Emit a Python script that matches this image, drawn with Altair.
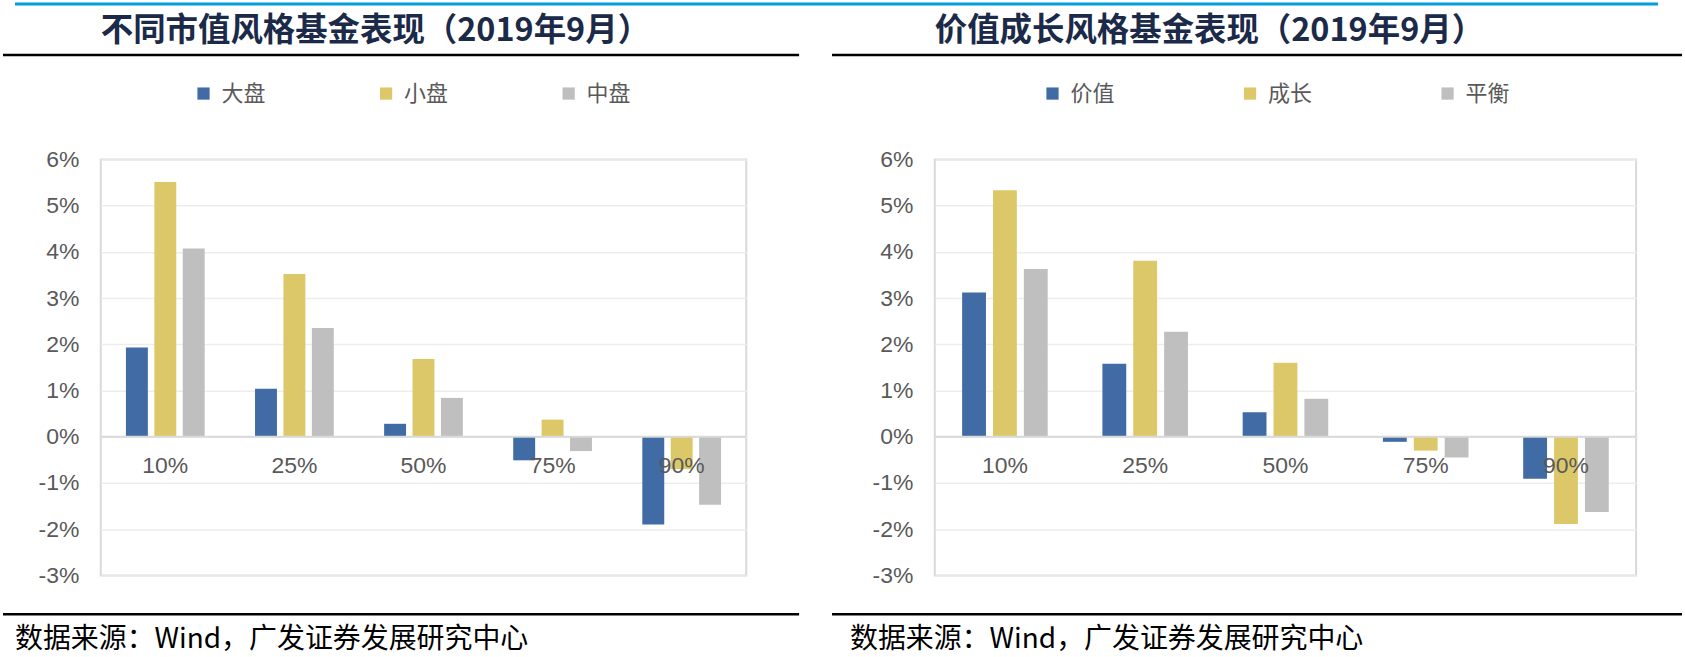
import altair as alt
import pandas as pd

# ---- data (percent) ----
categories = ["10%", "25%", "50%", "75%", "90%"]

left_series = ["大盘", "小盘", "中盘"]
left_large = [1.93, 1.04, 0.28, -0.51, -1.90]
left_small = [5.51, 3.52, 1.68, 0.37, -0.70]
left_mid = [4.07, 2.35, 0.84, -0.31, -1.47]

right_series = ["价值", "成长", "平衡"]
right_value = [3.12, 1.58, 0.53, -0.11, -0.91]
right_growth = [5.33, 3.81, 1.60, -0.30, -1.89]
right_balance = [3.63, 2.27, 0.82, -0.45, -1.63]

y_ticks = [-3, -2, -1, 0, 1, 2, 3, 4, 5, 6]

left_title = "不同市值风格基金表现（2019年9月）"
right_title = "价值成长风格基金表现（2019年9月）"
source_text = "数据来源：Wind，广发证券发展研究中心"

colors = ["#416BA4", "#DCC869", "#BFBFBF"]

PLOT_H = 417
CJK = "Noto Sans CJK SC"
LATIN = "Liberation Sans"
GREY_TXT = "#595959"

dummy = pd.DataFrame({"a": [0]})


def hline(x1, x2, y, color, width):
    return alt.Chart(dummy).mark_rule(color=color, strokeWidth=width).encode(
        x=alt.value(x1), x2=alt.value(x2), y=alt.value(y)
    )


def panel(series_names, series_values, title, width, legend_x, legend_gap,
          src_x, top_x1, top_x2, blue=None):
    rows = []
    for name, vals in zip(series_names, series_values):
        for c, v in zip(categories, vals):
            rows.append({"cat": c, "series": name, "value": v})
    df = pd.DataFrame(rows)

    xenc = alt.X("cat:N", sort=categories, axis=None,
                 scale=alt.Scale(paddingInner=0.39, paddingOuter=0.195))
    bars = alt.Chart(df).mark_bar().encode(
        x=xenc,
        xOffset=alt.XOffset("series:N", sort=series_names,
                            scale=alt.Scale(paddingInner=0.228, paddingOuter=0)),
        y=alt.Y("value:Q",
                scale=alt.Scale(domain=[-3, 6], nice=False, zero=False),
                axis=alt.Axis(values=y_ticks, labelExpr="datum.value + '%'",
                              title=None, domain=False, ticks=False,
                              grid=True, gridColor="#EDEDED", gridWidth=1.5,
                              labelPadding=22, labelFont=LATIN,
                              labelFontSize=23, labelColor=GREY_TXT)),
        color=alt.Color("series:N",
                        scale=alt.Scale(domain=series_names, range=colors),
                        legend=alt.Legend(orient="none", legendX=legend_x,
                                          legendY=-77, direction="horizontal",
                                          title=None, symbolType="square",
                                          symbolSize=150, symbolStrokeWidth=0,
                                          labelFont=CJK, labelFontSize=22,
                                          labelColor=GREY_TXT, labelOffset=7,
                                          columnPadding=legend_gap,
                                          padding=0)),
    )

    zero = alt.Chart(pd.DataFrame({"v": [0]})).mark_rule(
        color="#D9D9D9", strokeWidth=2).encode(y="v:Q")

    xlabels = alt.Chart(pd.DataFrame({"cat": categories})).mark_text(
        dy=29, fontSize=23, font=LATIN, color=GREY_TXT, baseline="middle"
    ).encode(x=alt.X("cat:N", sort=categories), y=alt.datum(0), text="cat:N")

    layers = [bars, zero, xlabels]

    # decorations
    layers.append(hline(top_x1, top_x2, -104.7, "#000000", 2.5))
    layers.append(hline(top_x1, top_x2, 456, "#000000", 2.5))
    if blue is not None:
        layers.append(hline(blue[0], blue[1], -155.7, "#00A0E0", 3))
    layers.append(alt.Chart(dummy).mark_text(
        text=title, align="left", baseline="middle", font=CJK,
        fontSize=32.5, fontWeight="bold", color="#1B2A48"
    ).encode(x=alt.value(0), y=alt.value(-129)))
    layers.append(alt.Chart(dummy).mark_text(
        text=source_text, align="left", baseline="middle", font=CJK,
        fontSize=28, color="#000000"
    ).encode(x=alt.value(src_x), y=alt.value(482)))

    return alt.layer(*layers).properties(width=width, height=PLOT_H)


left = panel(left_series, [left_large, left_small, left_mid], left_title,
             647, 92, 109, -86, -98, 700, blue=(-86, 1561))
right = panel(right_series, [right_value, right_growth, right_balance],
              right_title, 703, 107, 124, -85, -103, 749)

chart = alt.hconcat(left, right, spacing=189, bounds="flush").resolve_scale(
    color="independent", x="independent", y="independent", xOffset="independent"
).resolve_legend(color="independent").configure_view(
    stroke="#D9D9D9", strokeWidth=2
).properties(
    padding=0, background="white"
)

chart.save("out.html", embed_options={"renderer": "svg", "actions": False})
